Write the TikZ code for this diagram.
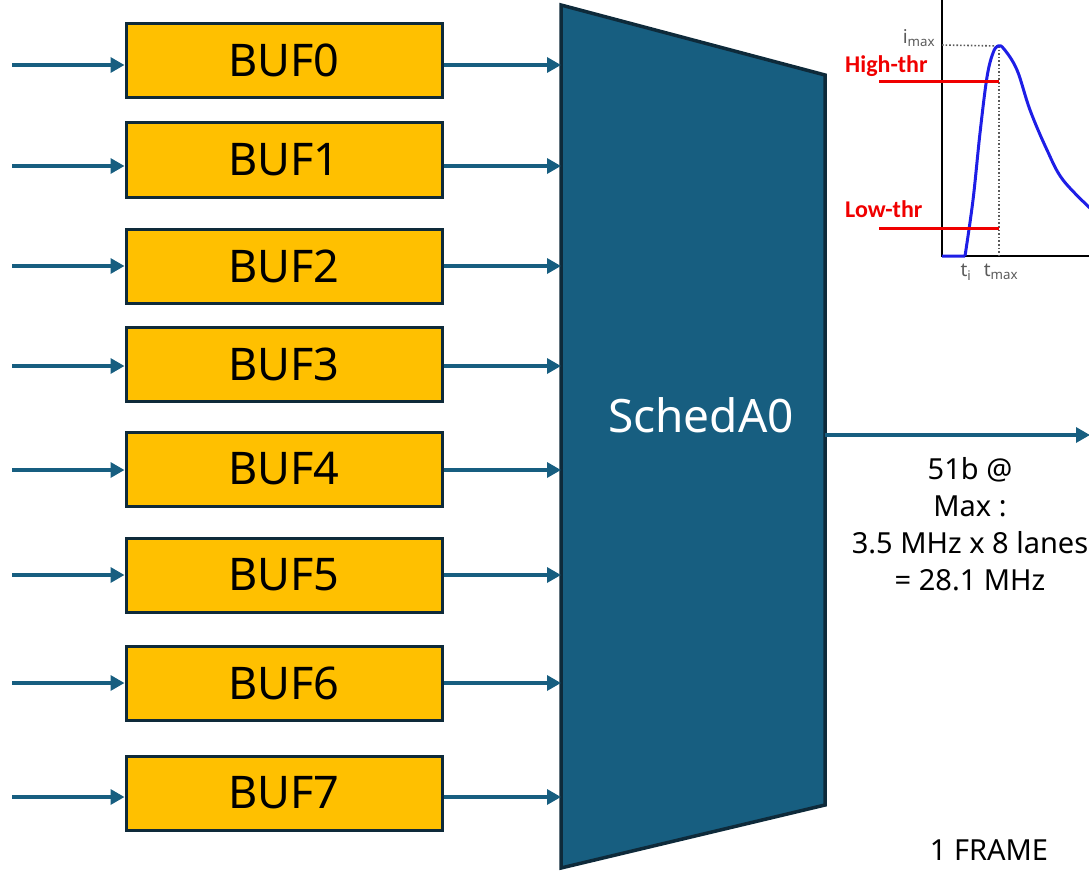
\documentclass[tikz,border=0pt]{standalone}
\usepackage{fontspec}
\setmainfont{Noto Sans}
\newfontfamily\thrfont{Carlito}
\usetikzlibrary{arrows.meta}
\definecolor{schedblue}{RGB}{23,94,128}
\definecolor{darkedge}{RGB}{14,42,58}
\definecolor{bufyellow}{RGB}{255,192,0}
\definecolor{curveblue}{RGB}{30,30,230}
\definecolor{thrred}{RGB}{240,0,0}
\definecolor{axgray}{RGB}{90,90,90}
\tikzset{
  bufbox/.style={draw=darkedge, line width=3pt, fill=bufyellow, minimum width=316pt, minimum height=74pt, inner sep=0pt, font=\fontsize{45}{47}\selectfont},
  conn/.style={draw=schedblue, line width=3.3pt, -{Triangle[length=14pt,width=15pt]}},
  small/.style={font=\fontsize{29}{37}\selectfont, align=center, inner sep=0pt},
  thr/.style={draw=thrred, line width=3pt},
  thrlab/.style={text=thrred, font=\thrfont\fontsize{24}{26}\selectfont\bfseries, inner sep=0pt, anchor=west},
  axlab/.style={text=axgray, font=\fontsize{19}{21}\selectfont, inner sep=0pt},
}
\begin{document}
\begin{tikzpicture}[x=1pt,y=-1pt]
\useasboundingbox (0,0) rectangle (1089,872);
\clip (0,0) rectangle (1089,872);
% scheduler trapezoid
\draw[fill=schedblue, draw=darkedge, line width=3.5pt, line join=miter] (561,5) -- (825,75) -- (825,805) -- (561,868) -- cycle;
\node[text=white, font=\fontsize{46}{48}\selectfont, inner sep=0pt] (sched) at (701,415) {SchedA0};
% buffers
\foreach \i/\cy/\ay in {0/60.5/65,1/160/166,2/266/266,3/364/366,4/469/470,5/575/575,6/683/683,7/793/797}{
  \node[bufbox] (b\i) at (284,\cy) {BUF\i};
  \coordinate (in\i) at (12,\ay);
  \coordinate (out\i) at (561,\ay);
  \draw[conn] (in\i) -- (in\i -| b\i.west);
  \draw[conn] (b\i.east |- out\i) -- (out\i);
}
% output
\coordinate (sout) at (825,435);
\coordinate (send) at (1090,435);
\draw[conn] (sout) -- (send);
\node[small] (rate) at (970,524) {51b @\\Max :\\3.5 MHz x 8 lanes\\= 28.1 MHz};
\node[small] (frame) at (989,850) {1 FRAME};
% pulse graph
\coordinate (ax0) at (942,256);
\coordinate (axtop) at (942,-5);
\coordinate (axright) at (1095,256);
\draw[black, line width=2pt] (axtop) -- (ax0) -- (axright);
\coordinate (peak) at (999,46);
\draw[axgray, dotted, line width=1.6pt] (942,45) -- (peak);
\draw[axgray, dotted, line width=1.6pt] (peak) -- (999,256);
\draw[curveblue, line width=3pt, line join=round] (942,256) -- (965,256)
  plot[smooth, tension=0.6] coordinates {(965,256) (973,200) (980,133) (987,77) (993,53) (998,46) (1004,49) (1017,70) (1030,110) (1047,150) (1063,180) (1092,210)};
\draw[thr] (879,82) -- (999,82);
\draw[thr] (879,228) -- (999,228);
\node[thrlab] (hthr) at (845,66) {High-thr};
\node[thrlab] (lthr) at (845,209) {Low-thr};
\node[axlab] (imax) at (919,38) {i$_{\mathrm{max}}$};
\node[axlab] (ti) at (966,272) {t$_{\mathrm{i}}$};
\node[axlab] (tmax) at (1001,272) {t$_{\mathrm{max}}$};
\node[axlab, text=black!70] (it) at (915,-8) {i(t)};
\end{tikzpicture}
\end{document}
